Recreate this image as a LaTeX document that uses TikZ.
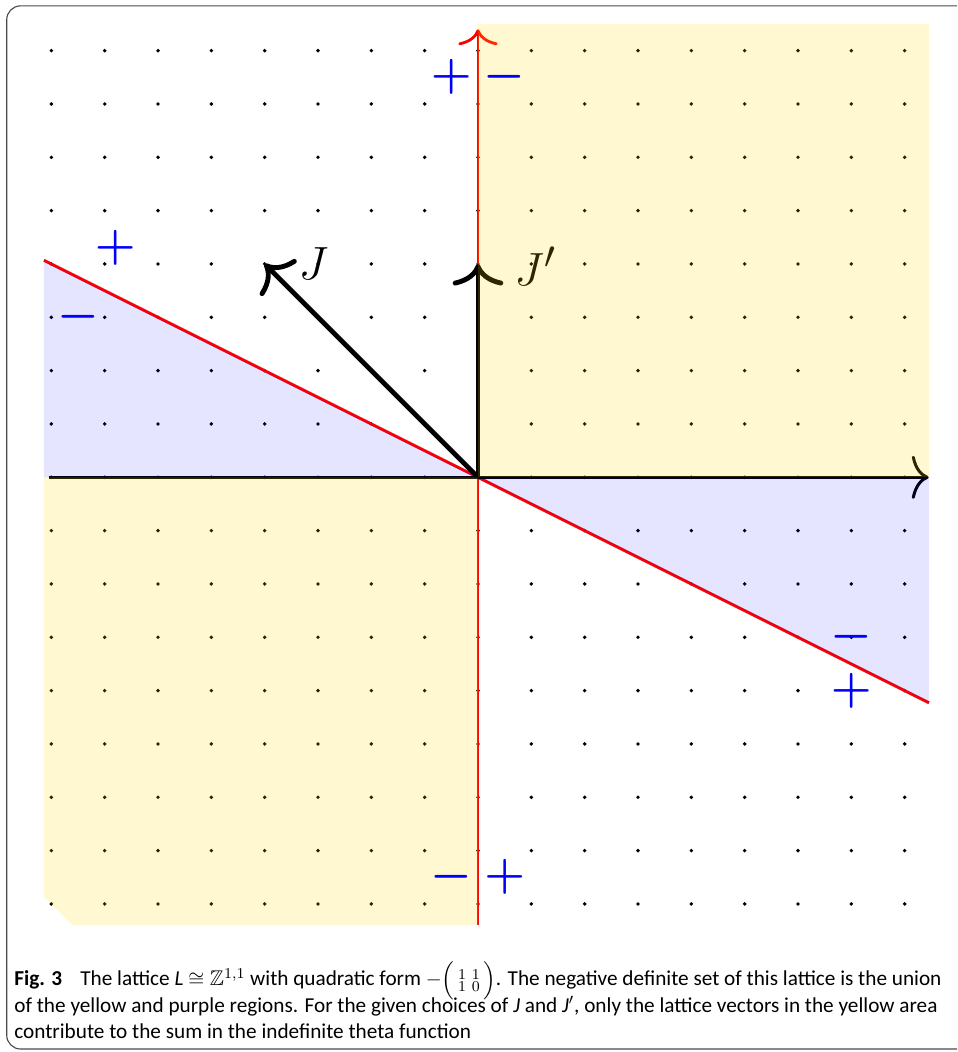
\documentclass[tikz,border=0pt]{standalone}
\usepackage{amsmath,amssymb}
\usepackage{fontspec}
\setmainfont{Carlito}
\usetikzlibrary{arrows.meta}
\definecolor{LatYellow}{HTML}{FFD800}
\definecolor{LatPurple}{HTML}{0000FF}
\definecolor{LatFrame}{HTML}{4A4A4A}

\begin{document}
\begin{tikzpicture}[x=1cm,y=1cm,
  latdot/.style={fill=black},
  axisline/.style={line width=1.6pt,-{Computer Modern Rightarrow[length=9pt,width=23pt]}},
  redline/.style={red,line width=1.5pt},
  vecline/.style={line width=2.6pt,-{Computer Modern Rightarrow[length=11.5pt,width=27pt]}},
  veclabel/.style={font=\fontsize{29}{32}\selectfont,inner sep=0pt},
  signlabel/.style={blue,font=\fontsize{24}{28}\selectfont\boldmath,inner sep=0pt},
  captext/.style={anchor=base west,inner sep=0pt,font=\fontsize{11.33}{14}\selectfont}]
\path[use as bounding box] (-8.963,-10.776) rectangle (8.982,8.95);
\clip (-8.963,-10.776) rectangle (8.982,8.95);
\draw[LatFrame,line width=.6pt,rounded corners=0.26cm] (-8.837,-10.72) rectangle (9.4,8.84);
\foreach \x in {-8,...,8}
  \foreach \y in {-8,...,8}
    \fill[latdot] (\x,\y) circle (0.036);
\coordinate (O) at (0,0);
\coordinate (Jtip) at (-4,4);
\coordinate (Jptip) at (0,4);
\coordinate (nullW) at (-8.14,4.07);
\coordinate (nullE) at (8.457,-4.2285);
\coordinate (nullS) at (0,-8.4);
\coordinate (nullN) at (0,8.4);
\draw[redline] (nullW) -- (nullE);
\draw[redline,-{Computer Modern Rightarrow[length=8.5pt,width=21pt]}] (nullS) -- (nullN);
\draw[axisline] (-8.05,0) -- (8.45,0);
\draw[vecline] (O) -- (Jtip);
\draw[vecline] (O) -- (Jptip);
\node[veclabel] (labJ) at (-3.085,4.0) {$J$};
\node[veclabel] (labJp) at (1.07,3.95) {$J'$};
\fill[LatYellow,fill opacity=.18] (0,0) rectangle (8.457,8.5);
\fill[LatYellow,fill opacity=.18] (0,0) -- (0,-8.4) -- (-7.6,-8.4) -- (-8.14,-7.86) -- (-8.14,0) -- cycle;
\fill[LatPurple,fill opacity=.1] (0,0) -- (-8.14,0) -- (nullW) -- cycle;
\fill[LatPurple,fill opacity=.1] (0,0) -- (8.457,0) -- (nullE) -- cycle;
\node[signlabel] (plusN) at (-0.5,7.5) {$+$};
\node[signlabel] (minusN) at (0.5,7.5) {$-$};
\node[signlabel] (plusW) at (-6.8,4.3) {$+$};
\node[signlabel] (minusW) at (-7.5,3) {$-$};
\node[signlabel] (minusE) at (7,-3) {$-$};
\node[signlabel] (plusE) at (7,-4) {$+$};
\node[signlabel] (minusS) at (-0.5,-7.5) {$-$};
\node[signlabel] (plusS) at (0.5,-7.5) {$+$};
\node[captext] (cap1) at (-8.70,-9.535) {\textbf{Fig. 3}\hspace{0.85em}The lattice \textit{L} $\cong\mathbb{Z}^{1,1}$ with quadratic form $-\Bigl(\begin{smallmatrix}1&1\\1&0\end{smallmatrix}\Bigr)$. The negative definite set of this lattice is the union};
\node[captext] (cap2) at (-8.70,-10.03) {of the yellow and purple regions. For the given choices of \textit{J} and \textit{J}$'$, only the lattice vectors in the yellow area};
\node[captext] (cap3) at (-8.70,-10.53) {contribute to the sum in the indefinite theta function};
\end{tikzpicture}
\end{document}
